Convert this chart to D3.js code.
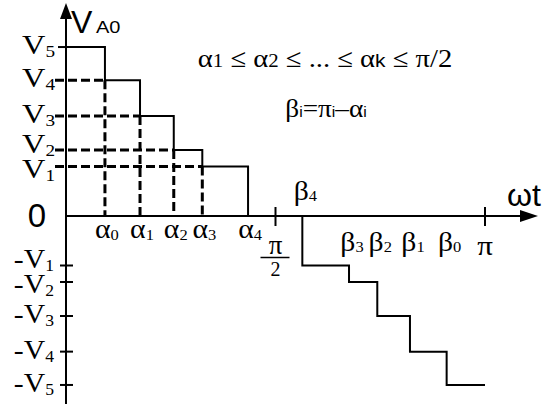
<!DOCTYPE html>
<html>
<head>
<meta charset="UTF-8">
<script src="https://d3js.org/d3.v7.min.js"></script>
<style>
  body { margin: 0; background: #fff; }
  svg { display: block; }
</style>
</head>
<body>
<svg></svg>
<script>
// levels V1..V5 (arbitrary units) and switching angles (radians)
const levels = [1.5, 2.0, 3.03, 4.11, 5.12];
const alphas = [0.292, 0.555, 0.808, 1.022, 1.365];    // alpha0..alpha4
const betas = [2.854, 2.579, 2.334, 2.122, 1.772];     // beta0..beta4
const levelNames = ["1", "2", "3", "4", "5"];
const angleNames = ["0", "1", "2", "3", "4"];

const SERIF = "'Liberation Serif', 'Times New Roman', serif";
const SANS = "'Liberation Sans', Arial, sans-serif";

const width = 559, height = 410;
const svg = d3.select("svg").attr("width", width).attr("height", height);

const x = d3.scaleLinear().domain([0, Math.PI]).range([66, 485]);
const y = d3.scaleLinear().domain([-6, 6]).range([414, 18]);

const x0 = x(0), y0 = y(0);

// dashed guide lines
const dashG = svg.append("g")
  .attr("stroke", "#000").attr("stroke-width", 3)
  .attr("stroke-dasharray", "9,4").attr("fill", "none");

for (let i = 0; i < 4; i++) {
  dashG.append("line")
    .attr("x1", x0 - 11).attr("x2", x(alphas[3 - i]))
    .attr("y1", y(levels[i])).attr("y2", y(levels[i]));
  dashG.append("line")
    .attr("x1", x(alphas[i])).attr("x2", x(alphas[i]))
    .attr("y1", y(levels[3 - i])).attr("y2", y0);
}

// axes
const axG = svg.append("g").attr("stroke", "#000").attr("stroke-width", 2).attr("fill", "none");
axG.append("line").attr("x1", x0).attr("x2", x0).attr("y1", 14).attr("y2", 404);
axG.append("line").attr("x1", x0).attr("x2", 524).attr("y1", y0).attr("y2", y0);
svg.append("path").attr("d", `M${x0},3 L${x0 - 6},19 L${x0 + 6},19 Z`).attr("fill", "#000");
svg.append("path").attr("d", `M538,${y0} L520,${y0 - 6} L520,${y0 + 6} Z`).attr("fill", "#000");

// ticks
axG.append("line").attr("x1", x0 - 8).attr("x2", x0).attr("y1", y(levels[4])).attr("y2", y(levels[4]));
levels.forEach(v => {
  axG.append("line").attr("x1", x0 - 6).attr("x2", x0 + 7).attr("y1", y(-v)).attr("y2", y(-v));
});
[Math.PI / 2, Math.PI].forEach(t => {
  axG.append("line").attr("x1", x(t)).attr("x2", x(t)).attr("y1", y0 - 9).attr("y2", y0 + 10);
});

// waveform
const line = d3.line().x(d => x(d.t)).y(d => y(d.v)).curve(d3.curveStepAfter);
const pos = [{ t: 0, v: levels[4] }];
for (let i = 0; i < 5; i++) pos.push({ t: alphas[i], v: i < 4 ? levels[3 - i] : 0 });
const neg = [{ t: betas[4], v: 0 }, { t: betas[4], v: -levels[0] }];
for (let i = 3; i >= 0; i--) neg.push({ t: betas[i], v: -levels[4 - i] });
neg.push({ t: Math.PI, v: -levels[4] });

svg.append("path").datum(pos).attr("d", line)
  .attr("fill", "none").attr("stroke", "#000").attr("stroke-width", 2);
svg.append("path").datum(neg).attr("d", line)
  .attr("fill", "none").attr("stroke", "#000").attr("stroke-width", 2);

// labels: main glyph with a subscript, stretched a little sideways like the original
function label(px, py, main, sub, o) {
  const t = svg.append("text").attr("font-family", SERIF)
    .attr("transform", `translate(${px},${py}) scale(${o.sx},1)`)
    .attr("text-anchor", o.anchor);
  t.append("tspan").attr("font-size", o.fs).text(main);
  t.append("tspan").attr("font-size", o.sfs).attr("dy", o.dy).text(sub);
  return t;
}

// push apart level labels that sit too close (V1 / V2)
function spread(ys, gap) {
  const out = ys.slice();
  for (let i = 1; i < out.length; i++) {
    const d = Math.abs(out[i] - out[i - 1]);
    if (d < gap) {
      const s = Math.sign(out[i] - out[i - 1]) * (gap - d) / 2;
      out[i] += s;
      out[i - 1] -= s;
    }
  }
  return out;
}
const posY = spread(levels.map(v => y(v) + 7), 25);
const negY = spread(levels.map(v => y(-v) + 7), 25);

levels.forEach((v, i) => {
  label(55, posY[i], "V", levelNames[i], { sx: 1.2, fs: 27, sfs: 16, dy: 3, anchor: "end" });
  label(54, negY[i], "-V", levelNames[i], { sx: 1.1, fs: 27, sfs: 16, dy: 3, anchor: "end" });
});

alphas.forEach((a, i) => {
  label(x(a) + 2, 238, "\u03b1", angleNames[i], { sx: 1.1, fs: 27, sfs: 15, dy: 2, anchor: "middle" });
});
betas.forEach((b, i) => {
  const by = i === 4 ? 200 : 251;
  label(x(b) + 3, by, "\u03b2", angleNames[i], { sx: 1.1, fs: 27, sfs: 15, dy: 1, anchor: "middle" });
});

// pi/2 and pi
svg.append("text").attr("font-family", SERIF).attr("x", x(Math.PI / 2)).attr("y", 254)
  .attr("text-anchor", "middle").attr("font-size", 27).text("\u03c0");
svg.append("line").attr("x1", x(Math.PI / 2) - 15).attr("x2", x(Math.PI / 2) + 14)
  .attr("y1", 257.5).attr("y2", 257.5).attr("stroke", "#000").attr("stroke-width", 1.5);
svg.append("text").attr("font-family", SERIF).attr("x", x(Math.PI / 2)).attr("y", 276)
  .attr("text-anchor", "middle").attr("font-size", 20).text("2");
svg.append("text").attr("font-family", SERIF)
  .attr("transform", `translate(${x(Math.PI)},255) scale(1.15,1)`)
  .attr("text-anchor", "middle").attr("font-size", 27).text("\u03c0");

// axis titles
svg.append("text").attr("font-family", SANS).attr("x", 71).attr("y", 33)
  .attr("font-size", 32).text("V");
svg.append("text").attr("font-family", SANS)
  .attr("transform", "translate(96,33) scale(1.25,1)")
  .attr("font-size", 16).text("A0");
svg.append("text").attr("font-family", SANS).attr("x", 37).attr("y", 227)
  .attr("text-anchor", "middle").attr("font-size", 33).text("0");
svg.append("text").attr("font-family", SANS).attr("x", 507).attr("y", 206)
  .attr("font-size", 32).text("\u03c9t");

// formulas
const f1 = svg.append("text").attr("font-family", SERIF)
  .attr("transform", "translate(325,67) scale(1.1,1)")
  .attr("text-anchor", "middle").attr("font-size", 26);
[["\u03b1", "1"], [" \u2264 \u03b1", "2"], [" \u2264 ... \u2264 \u03b1", "k"], [" \u2264 \u03c0/2", ""]].forEach(p => {
  f1.append("tspan").text(p[0]);
  if (p[1]) f1.append("tspan").attr("font-size", 19)
    .attr("font-family", p[1] === "k" ? SANS : SERIF).text(p[1]);
});

const f2 = svg.append("text").attr("font-family", SERIF)
  .attr("transform", "translate(326,117) scale(1.05,1)")
  .attr("text-anchor", "middle").attr("font-size", 26);
[["\u03b2", "i"], ["=\u03c0", "i"], ["\u2013\u03b1", "i"]].forEach(p => {
  f2.append("tspan").text(p[0]);
  f2.append("tspan").attr("font-family", SANS).attr("font-size", 15).text(p[1]);
});
</script>
</body>
</html>
